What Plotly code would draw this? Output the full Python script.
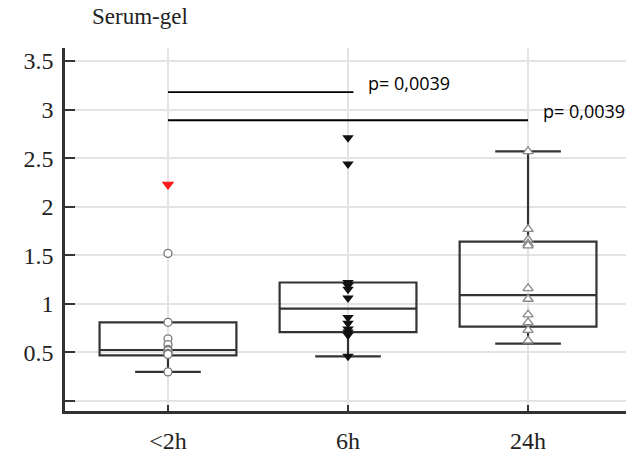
import plotly.graph_objects as go

categories = ["<2h", "6h", "24h"]

# box statistics per group
q1 = [0.47, 0.71, 0.765]
median = [0.525, 0.95, 1.09]
q3 = [0.81, 1.22, 1.64]
lowerfence = [0.30, 0.46, 0.59]
upperfence = [0.81, 1.22, 2.57]

# individual observations
pts_2h = [0.81, 0.64, 0.58, 0.53, 0.52, 0.49, 0.48, 0.30, 1.52]
pts_2h_red = [2.23]
pts_6h = [2.71, 2.44, 1.22, 1.19, 1.15, 1.06, 0.86, 0.80, 0.74, 0.71, 0.68, 0.46]
pts_24h = [2.57, 1.77, 1.66, 1.62, 1.60, 1.16, 1.05, 0.89, 0.81, 0.73, 0.62]

# significance brackets
sig_from = [0, 0]
sig_to = [1.03, 2.0]
sig_y = [3.18, 2.89]
sig_text = ["p= 0,0039", "p= 0,0039"]

yticks = [0, 0.5, 1, 1.5, 2, 2.5, 3, 3.5]
yticklabels = ["", "0.5", "1", "1.5", "2", "2.5", "3", "3.5"]

dark = "#333333"
fig = go.Figure()

for i, c in enumerate(categories):
    fig.add_trace(go.Box(
        x=[i], q1=[q1[i]], median=[median[i]], q3=[q3[i]],
        lowerfence=[lowerfence[i]], upperfence=[upperfence[i]],
        width=0.76, whiskerwidth=0.48,
        fillcolor="rgba(255,255,255,0)", line=dict(color=dark, width=2.2),
        boxpoints=False, hoverinfo="skip", showlegend=False,
    ))

fig.add_trace(go.Scatter(
    x=[0] * len(pts_2h), y=pts_2h, mode="markers",
    marker=dict(symbol="circle", size=8, color="white", line=dict(color="#777", width=1.3)),
    showlegend=False))
fig.add_trace(go.Scatter(
    x=[0] * len(pts_2h_red), y=pts_2h_red, mode="markers",
    marker=dict(symbol="triangle-down", size=11, color="#ff1a1a", line=dict(width=0)),
    showlegend=False))
fig.add_trace(go.Scatter(
    x=[1] * len(pts_6h), y=pts_6h, mode="markers",
    marker=dict(symbol="triangle-down", size=10, color="#111", line=dict(width=0)),
    showlegend=False))
fig.add_trace(go.Scatter(
    x=[2] * len(pts_24h), y=pts_24h, mode="markers",
    marker=dict(symbol="triangle-up", size=9, color="white", line=dict(color="#888", width=1.3)),
    showlegend=False))

for a, b, yy, t in zip(sig_from, sig_to, sig_y, sig_text):
    fig.add_shape(type="line", x0=a, x1=b, y0=yy, y1=yy, xref="x", yref="y",
                  line=dict(color="black", width=1.8))
    fig.add_annotation(x=b, y=yy, xref="x", yref="y", text=t, showarrow=False,
                       xanchor="left", yanchor="bottom", xshift=13, yshift=-5,
                       font=dict(family="Open Sans", size=18, color="black"))

fig.add_annotation(x=0.045, y=1, xref="paper", yref="paper", text="Serum-gel",
                   showarrow=False, xanchor="left", yanchor="bottom", yshift=17,
                   font=dict(family="Liberation Serif", size=23, color="#222"))

fig.update_layout(
    width=626, height=459,
    margin=dict(l=65, r=0, t=48, b=48),
    plot_bgcolor="white", paper_bgcolor="white",
    showlegend=False,
    xaxis=dict(range=[-0.572, 2.544], tickvals=[0, 1, 2], ticktext=categories,
               showgrid=True, gridcolor="#e3e3e3", gridwidth=1.5, zeroline=False,
               showline=True, linecolor=dark, linewidth=2.5,
               ticks="inside", ticklen=6, tickwidth=1.5, tickcolor=dark,
               ticklabelstandoff=6,
               tickfont=dict(family="Liberation Serif", size=24, color="#222")),
    yaxis=dict(range=[-0.103, 3.634], tickvals=yticks, ticktext=yticklabels,
               showgrid=True, gridcolor="#e3e3e3", gridwidth=1.5, zeroline=False,
               showline=True, linecolor=dark, linewidth=2.5,
               ticks="inside", ticklen=10, tickwidth=2, tickcolor=dark,
               ticklabelstandoff=4,
               tickfont=dict(family="Liberation Serif", size=24, color="#222")),
)

fig.write_html("out.html", config={"displayModeBar": False},
               post_script="document.body.style.margin='0';document.body.style.overflow='hidden';")
